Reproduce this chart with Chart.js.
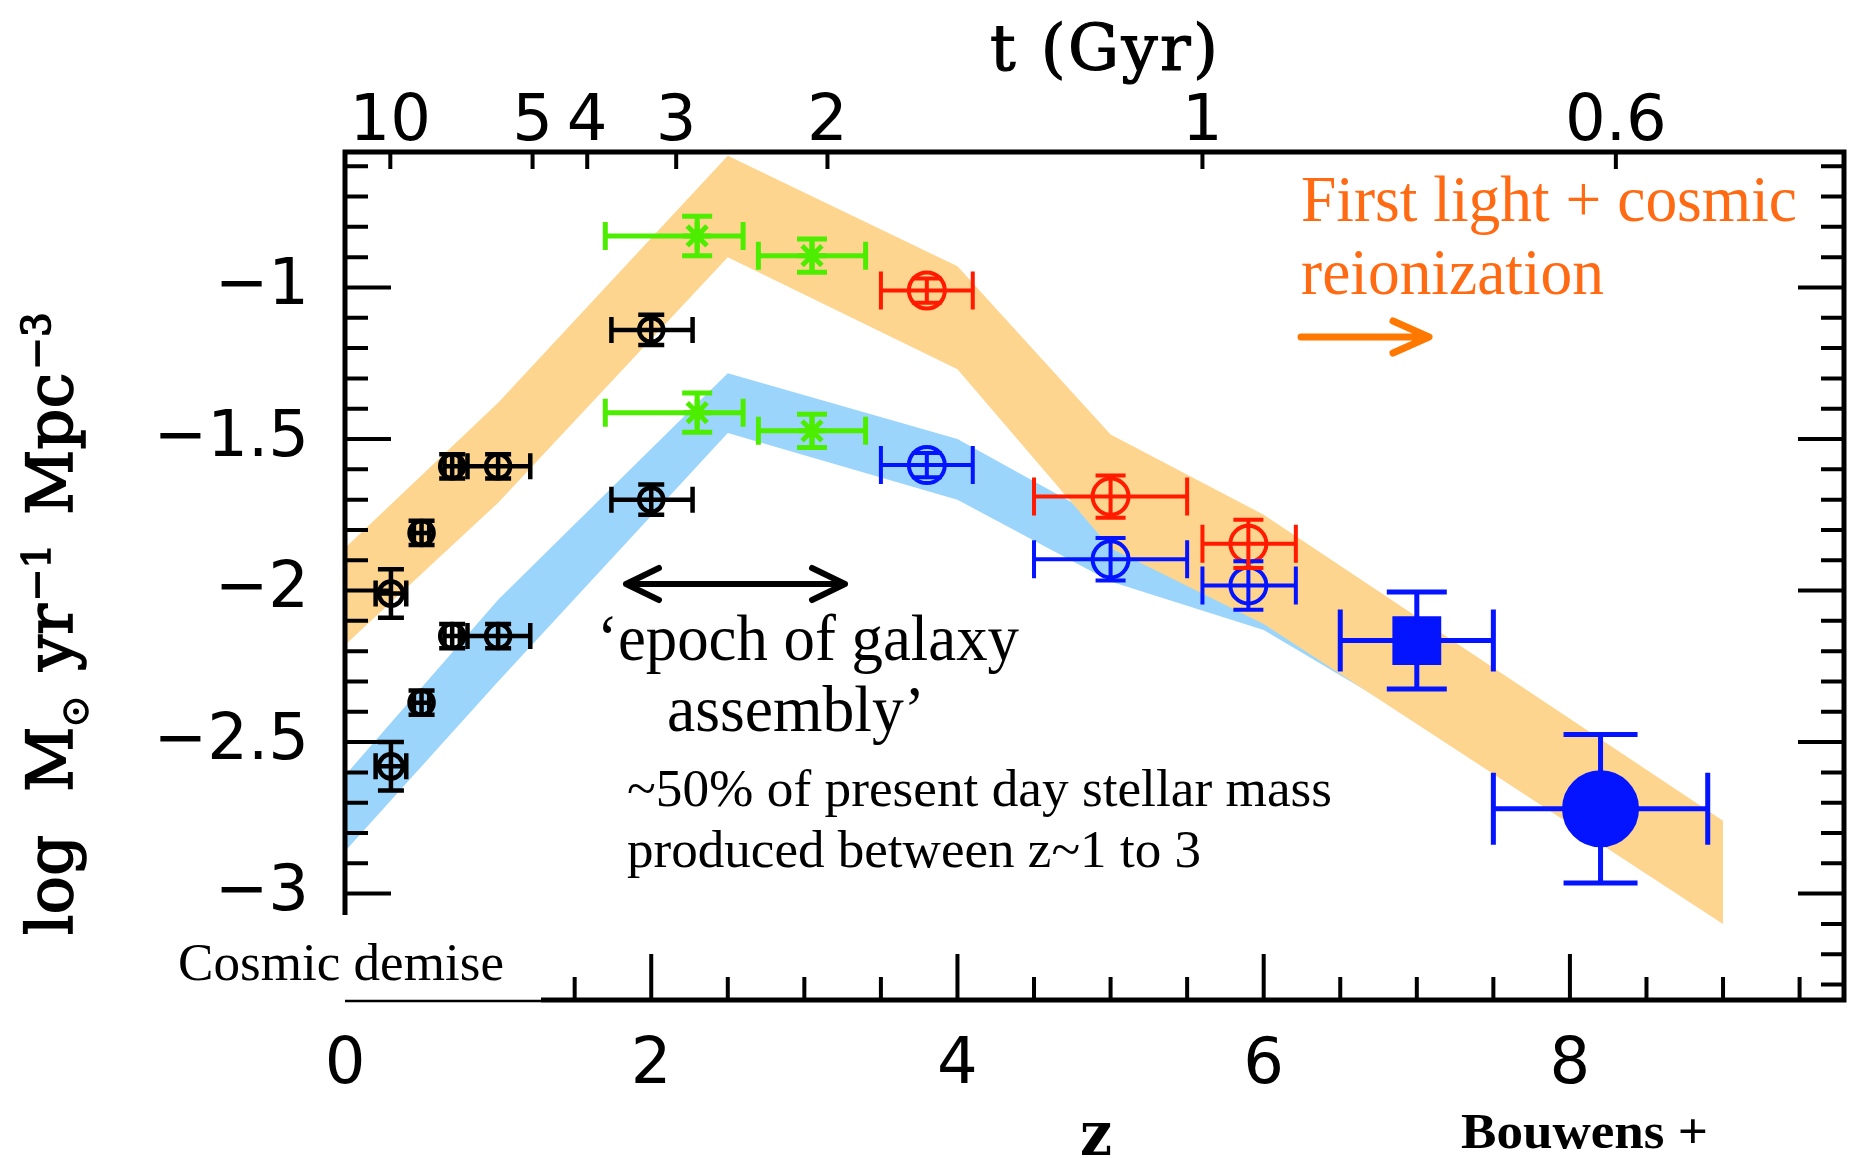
<!DOCTYPE html>
<html>
<head>
<meta charset="utf-8">
<title>Cosmic star formation history</title>
<script src="https://cdn.jsdelivr.net/npm/chart.js@4.4.1/dist/chart.umd.min.js"></script>
<style>
  html, body { margin: 0; padding: 0; background: #fff; overflow: hidden; }
  #wrap { position: relative; width: 1861px; height: 1158px; }
</style>
</head>
<body>
<div id="wrap"><canvas id="sfr"></canvas></div>
<script>
// log star formation rate density vs redshift, with cosmic age on the top axis

// shaded bands: upper / lower edge at each redshift node
const orangeZ  = [0, 1, 2.5, 4, 5, 6, 9];
const orangeHi = [-1.86, -1.38, -0.565, -0.93, -1.485, -1.75, -2.76];
const orangeLo = [-2.18, -1.71, -0.90, -1.27, -1.86, -2.11, -3.10];

const blueZ  = [0, 1, 2.5, 4, 5, 6, 7];
const blueHi = [-2.61, -2.03, -1.283, -1.50, -1.78, -2.0, -2.30];
const blueLo = [-2.86, -2.30, -1.48, -1.70, -1.97, -2.13, -2.43];

// low-z points (black), dust corrected / uncorrected
const lowZ      = [0.3, 0.5, 0.7, 1.0, 2.0];
const lowZErrLo = [0.1, 0.05, 0.05, 0.2, 0.26];
const lowZErrHi = [0.1, 0.05, 0.05, 0.21, 0.27];
const lowUpper  = [-2.01, -1.81, -1.59, -1.59, -1.14];
const lowLower  = [-2.58, -2.37, -2.15, -2.15, -1.70];
const lowYErr   = [0.08, 0.04, 0.04, 0.04, 0.05];

// z~2-3 points (green)
const midZ      = [2.3, 3.05];
const midZErrLo = [0.6, 0.35];
const midZErrHi = [0.3, 0.35];
const midUpper  = [-0.83, -0.895];
const midLower  = [-1.413, -1.473];
const midYErr   = [0.065, 0.055];

// dropout samples: red = corrected, blue = uncorrected
const dropZ      = [3.8, 5.0, 5.9];
const dropZErrLo = [0.3, 0.5, 0.3];
const dropZErrHi = [0.3, 0.5, 0.31];
const dropRed    = [-1.01, -1.69, -1.846];
const dropBlue   = [-1.586, -1.897, -1.983];
const dropYErr   = [0.04, 0.07, 0.08];

// Bouwens+ z~7 and z~8
const bouwensZ    = [7.0, 8.2];
const bouwensZErr = [0.5, 0.7];
const bouwensY    = [-2.165, -2.72];
const bouwensYErr = [0.16, 0.245];

// axis ticks
const zTicks    = [0, 2, 4, 6, 8];
const sfrTicks  = [-1, -1.5, -2, -2.5, -3];
const ageLabels = ['10', '5', '4', '3', '2', '1', '0.6'];
const ageAtZ    = [0.296, 1.225, 1.582, 2.163, 3.151, 5.60, 8.30];

const pts = (xs, ys) => xs.map((x, i) => ({ x: x, y: ys[i] }));
const pick = (v, j) => Array.isArray(v) ? v[j] : v;
const CLEAR = 'rgba(0,0,0,0)';

const GREEN = '#4ded00', RED = '#ff1a00', BLUE = '#0414ff';

// plot box in canvas pixels
const AREA = { left: 345, right: 1844, top: 152, bottom: 1000 };

function pointSet(label, xs, ys, color, style, radius, err) {
  return {
    label: label,
    data: pts(xs, ys),
    pointStyle: style,
    pointRadius: radius,
    borderColor: color,
    backgroundColor: CLEAR,
    borderWidth: err.width,
    err: err
  };
}

function bandEdge(label, xs, ys, color, fill) {
  return {
    type: 'line',
    label: label,
    data: pts(xs, ys),
    showLine: true,
    tension: 0,
    pointRadius: 0,
    borderWidth: 0,
    borderColor: CLEAR,
    backgroundColor: color,
    fill: fill
  };
}

const bouwens = pointSet('Bouwens+', bouwensZ, bouwensY, BLUE, ['rect', 'circle'], [31, 36],
  { xLo: bouwensZErr, xHi: bouwensZErr, y: bouwensYErr, width: 5, capX: [31, 36], capY: [30, 37] });
bouwens.backgroundColor = BLUE;

const datasets = [
  bouwens,
  pointSet('red', dropZ, dropRed, RED, 'circle', 18,
    { xLo: dropZErrLo, xHi: dropZErrHi, y: dropYErr, width: 4, capX: 19, capY: 15 }),
  pointSet('blue', dropZ, dropBlue, BLUE, 'circle', 18,
    { xLo: dropZErrLo, xHi: dropZErrHi, y: dropYErr, width: 4, capX: 19, capY: 15 }),
  pointSet('green hi', midZ, midUpper, GREEN, 'star', 14,
    { xLo: midZErrLo, xHi: midZErrHi, y: midYErr, width: 5, capX: 14, capY: 15 }),
  pointSet('green lo', midZ, midLower, GREEN, 'star', 14,
    { xLo: midZErrLo, xHi: midZErrHi, y: midYErr, width: 5, capX: 14, capY: 15 }),
  pointSet('black hi', lowZ, lowUpper, '#000', 'circle', 12,
    { xLo: lowZErrLo, xHi: lowZErrHi, y: lowYErr, width: 4.5, capX: 13, capY: 13 }),
  pointSet('black lo', lowZ, lowLower, '#000', 'circle', 12,
    { xLo: lowZErrLo, xHi: lowZErrHi, y: lowYErr, width: 4.5, capX: 13, capY: 13 }),
  bandEdge('orange hi', orangeZ, orangeHi, '#fdd58f', '+1'),
  bandEdge('orange lo', orangeZ, orangeLo, '#fdd58f', false),
  bandEdge('blue hi', blueZ, blueHi, '#9bd5fb', '+1'),
  bandEdge('blue lo', blueZ, blueLo, '#9bd5fb', false)
];

// error bars with caps, drawn through the scales
const errorBars = {
  id: 'errorBars',
  afterDatasetsDraw(chart) {
    const { ctx, scales: { x, y } } = chart;
    const sets = chart.data.datasets;
    for (let i = sets.length - 1; i >= 0; i--) {
      const ds = sets[i], e = ds.err;
      if (!e) continue;
      ctx.save();
      ctx.strokeStyle = ds.borderColor;
      ctx.lineWidth = e.width;
      ds.data.forEach((p, j) => {
        const px = x.getPixelForValue(p.x), py = y.getPixelForValue(p.y);
        const xl = x.getPixelForValue(p.x - e.xLo[j]), xr = x.getPixelForValue(p.x + e.xHi[j]);
        const yt = y.getPixelForValue(p.y + e.y[j]), yb = y.getPixelForValue(p.y - e.y[j]);
        const cx = pick(e.capX, j), cy = pick(e.capY, j);
        ctx.beginPath();
        ctx.moveTo(xl, py); ctx.lineTo(xr, py);
        ctx.moveTo(xl, py - cx); ctx.lineTo(xl, py + cx);
        ctx.moveTo(xr, py - cx); ctx.lineTo(xr, py + cx);
        ctx.moveTo(px, yt); ctx.lineTo(px, yb);
        ctx.moveTo(px - cy, yt); ctx.lineTo(px + cy, yt);
        ctx.moveTo(px - cy, yb); ctx.lineTo(px + cy, yb);
        ctx.stroke();
      });
      ctx.restore();
    }
  }
};

// text squeezed / stretched to a set width
function fitText(ctx, str, x, base, width, font, color, bold) {
  ctx.save();
  ctx.font = font;
  ctx.fillStyle = color;
  ctx.strokeStyle = color;
  ctx.textAlign = 'left';
  ctx.textBaseline = 'alphabetic';
  const w = ctx.measureText(str).width;
  ctx.translate(x, base);
  ctx.scale(width / w, 1);
  ctx.fillText(str, 0, 0);
  if (bold) { ctx.lineWidth = bold; ctx.strokeText(str, 0, 0); }
  ctx.restore();
}

// text spread out with letter spacing to a set width
function spacedText(ctx, str, x, base, width, font, color, bold) {
  ctx.save();
  ctx.font = font;
  ctx.fillStyle = color;
  ctx.strokeStyle = color;
  ctx.textAlign = 'left';
  ctx.textBaseline = 'alphabetic';
  const w = ctx.measureText(str).width;
  if ('letterSpacing' in ctx && str.length > 1) {
    ctx.letterSpacing = ((width - w) / (str.length - 1)).toFixed(2) + 'px';
  } else {
    ctx.translate(x, base);
    ctx.scale(width / w, 1);
    x = 0; base = 0;
  }
  ctx.fillText(str, x, base);
  if (bold) { ctx.lineWidth = bold; ctx.strokeText(str, x, base); }
  ctx.restore();
}

function arrowHead(ctx, tipX, tipY, dir, len, half) {
  ctx.moveTo(tipX - dir * len, tipY - half);
  ctx.lineTo(tipX, tipY);
  ctx.lineTo(tipX - dir * len, tipY + half);
}

function drawYTitle(ctx) {
  const big = '64px "DejaVu Serif"', small = '39px "DejaVu Serif"';
  ctx.save();
  ctx.translate(72, 935);
  ctx.rotate(-Math.PI / 2);
  ctx.fillStyle = '#000';
  ctx.strokeStyle = '#000';
  ctx.textBaseline = 'alphabetic';
  ctx.lineWidth = 1.6;
  const run = (str, at, font, dy) => {
    ctx.font = font;
    ctx.fillText(str, at, dy);
    ctx.strokeText(str, at, dy);
    return at + ctx.measureText(str).width;
  };
  run('log', 0, big, 0);
  let e = run('M', 143, big, 0);
  ctx.lineWidth = 3.5;
  ctx.beginPath(); ctx.arc(e + 15, 4, 11, 0, Math.PI * 2); ctx.stroke();
  ctx.beginPath(); ctx.arc(e + 15, 4, 3, 0, Math.PI * 2); ctx.fill();
  ctx.lineWidth = 1.6;
  e = run('yr', 264, big, 0);
  run('\u22121', e + 3, small, -22);
  e = run('Mpc', 420, big, 0);
  run('\u22123', e + 3, small, -22);
  ctx.restore();
}

// inward ticks, frame, labels and notes
const frame = {
  id: 'frame',
  afterDraw(chart) {
    const { ctx, chartArea: a, scales: { x, y } } = chart;
    ctx.save();
    ctx.strokeStyle = '#000';
    ctx.lineWidth = 4;
    ctx.beginPath();
    for (let k = 6; k <= 33; k++) {
      const py = y.getPixelForValue(-k / 10);
      const len = k % 5 === 0 ? 46 : 23;
      ctx.moveTo(a.left, py); ctx.lineTo(a.left + len, py);
      ctx.moveTo(a.right, py); ctx.lineTo(a.right - len, py);
    }
    for (let k = 1; k <= 19; k++) {
      const px = x.getPixelForValue(k / 2);
      const len = k % 4 === 0 ? 46 : 23;
      ctx.moveTo(px, a.bottom); ctx.lineTo(px, a.bottom - len);
    }
    ageAtZ.forEach(z => {
      const px = x.getPixelForValue(z);
      ctx.moveTo(px, a.top); ctx.lineTo(px, a.top + 17);
    });
    ctx.stroke();
    ctx.lineWidth = 5;
    ctx.strokeRect(a.left, a.top, a.right - a.left, a.bottom - a.top);

    // corner panel for the "Cosmic demise" label
    ctx.fillStyle = '#fff';
    ctx.fillRect(0, 915, 541, 89);
    ctx.lineWidth = 2.5;
    ctx.beginPath();
    ctx.moveTo(a.left, 1001); ctx.lineTo(541, 1001);
    ctx.stroke();

    // axis titles
    spacedText(ctx, 't (Gyr)', 990, 70, 228, '64px "DejaVu Serif"', '#000', 1.2);
    fitText(ctx, 'z', 1080, 1155, 32, 'bold 62px "DejaVu Serif"', '#000');
    drawYTitle(ctx);

    // notes
    const serif = s => s + 'px "Liberation Serif", "Times New Roman", serif';
    const ORANGE = '#ff6a13';
    fitText(ctx, 'First light + cosmic', 1301, 221, 496, serif(65), ORANGE);
    fitText(ctx, 'reionization', 1301, 294, 303, serif(65), ORANGE);
    fitText(ctx, '\u2018epoch of galaxy', 597, 660, 422, serif(65), '#000');
    fitText(ctx, 'assembly\u2019', 667, 731, 258, serif(65), '#000');
    fitText(ctx, '~50% of present day stellar mass', 627, 806, 705, serif(53), '#000');
    fitText(ctx, 'produced between z~1 to 3', 627, 867, 574, serif(53), '#000');
    fitText(ctx, 'Cosmic demise', 178, 980, 326, serif(53), '#000');
    fitText(ctx, 'Bouwens +', 1461, 1148, 247, 'bold ' + serif(50), '#000');

    ctx.lineCap = 'round';
    ctx.lineJoin = 'round';
    ctx.strokeStyle = '#ff7800';
    ctx.lineWidth = 7;
    ctx.beginPath();
    ctx.moveTo(1301, 337); ctx.lineTo(1428, 337);
    arrowHead(ctx, 1429, 337, 1, 36, 16);
    ctx.stroke();

    ctx.strokeStyle = '#000';
    ctx.lineWidth = 6;
    ctx.beginPath();
    ctx.moveTo(626, 584); ctx.lineTo(845, 584);
    arrowHead(ctx, 626, 584, -1, 33, 16);
    arrowHead(ctx, 845, 584, 1, 33, 16);
    ctx.stroke();
    ctx.restore();
  }
};

const tickFont = { family: 'DejaVu Sans', size: 64 };

// keep the axes from padding the plot box for their end labels
const noPad = s => { s.paddingLeft = 0; s.paddingRight = 0; s.paddingTop = 0; s.paddingBottom = 0; };

function build() {
  new Chart(document.getElementById('sfr'), {
    type: 'scatter',
    data: { datasets: datasets },
    options: {
      responsive: true,
      maintainAspectRatio: false,
      animation: false,
      events: [],
      layout: { autoPadding: false, padding: { top: 0, right: 1861 - AREA.right, bottom: 0, left: 0 } },
      plugins: { legend: { display: false }, tooltip: { enabled: false } },
      scales: {
        x: {
          type: 'linear', position: 'bottom', min: 0, max: 9.79,
          grid: { display: false, drawTicks: false }, border: { display: false },
          ticks: { font: tickFont, color: '#000', padding: 28, maxRotation: 0, autoSkip: false,
                   callback: v => String(v) },
          afterBuildTicks: s => { s.ticks = zTicks.map(v => ({ value: v })); },
          afterFit: s => { s.height = 1158 - AREA.bottom; noPad(s); }
        },
        x2: {
          type: 'linear', position: 'top', min: 0, max: 9.79,
          grid: { display: false, drawTicks: false }, border: { display: false },
          ticks: { font: { family: 'DejaVu Sans', size: 64, lineHeight: 1 }, color: '#000', padding: -3,
                   maxRotation: 0, autoSkip: false,
                   callback: (v, i) => ageLabels[i] },
          afterBuildTicks: s => { s.ticks = ageAtZ.map(v => ({ value: v })); },
          afterFit: s => { s.height = AREA.top; noPad(s); }
        },
        y: {
          type: 'linear', position: 'left', min: -3.351, max: -0.553,
          grid: { display: false, drawTicks: false }, border: { display: false },
          ticks: { font: tickFont, color: '#000', padding: 36,
                   callback: v => (v < 0 ? '\u2212' : '') + Math.abs(v) },
          afterBuildTicks: s => { s.ticks = sfrTicks.map(v => ({ value: v })); },
          afterFit: s => { s.width = AREA.left; noPad(s); }
        }
      }
    },
    plugins: [errorBars, frame]
  });
}

const fontsReady = document.fonts && document.fonts.load
  ? Promise.all([
      document.fonts.load('64px "DejaVu Sans"'),
      document.fonts.load('64px "DejaVu Serif"'),
      document.fonts.load('bold 62px "DejaVu Serif"'),
      document.fonts.load('53px "Liberation Serif"'),
      document.fonts.load('bold 50px "Liberation Serif"')
    ]).catch(() => null)
  : Promise.resolve();
fontsReady.then(build);
</script>
</body>
</html>
